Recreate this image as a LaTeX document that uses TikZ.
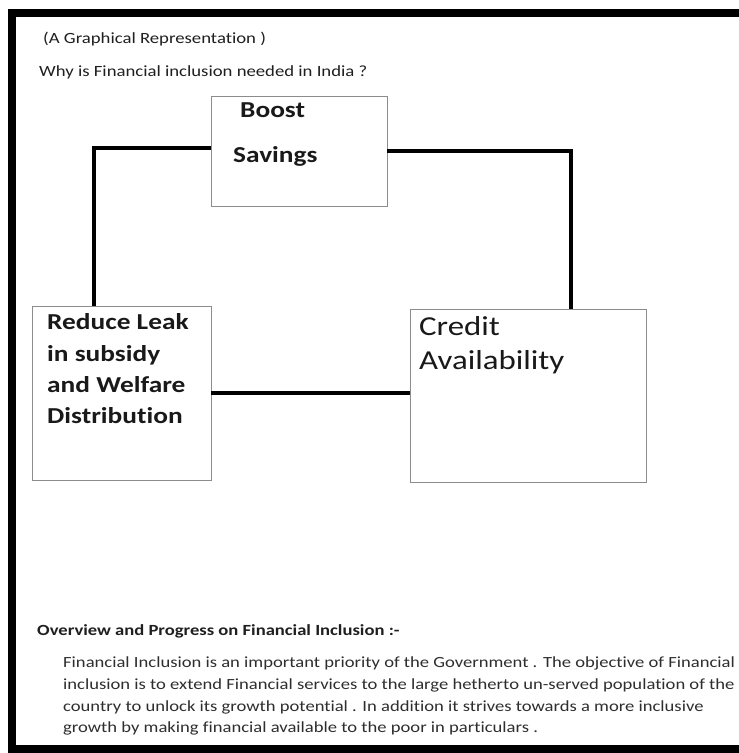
\documentclass[tikz,border=0pt]{standalone}
\usepackage{fontspec}
\setmainfont{Carlito}[FakeStretch=1.2,Ligatures=NoCommon,RawFeature=-liga]
\begin{document}
\begin{tikzpicture}[x=1pt,y=-1pt,
  box/.style={draw=black!45,line width=0.8pt,rectangle,inner sep=0pt},
  link/.style={line width=4.2pt,black},
  small/.style={anchor=base west,inner sep=0pt,text=black!88,font=\fontsize{15.6}{18}\selectfont},
  smallb/.style={small,font=\fontsize{15.5}{18}\selectfont\bfseries},
  para/.style={anchor=base west,inner sep=0pt,text=black!82,font=\fontsize{15.5}{18}\selectfont},
  bigb/.style={anchor=base west,inner sep=0pt,text=black!90,font=\fontsize{22.8}{26}\selectfont\bfseries},
  bigr/.style={anchor=base west,inner sep=0pt,text=black!90,font=\fontsize{27.4}{30}\selectfont}]
\useasboundingbox (0,0) rectangle (739,753);
\fill[white] (0,0) rectangle (739,753);
% frame
\draw[line width=8pt,black] (745,13) -- (12,13) -- (12,749) -- (745,749);
% header texts
\node[small] (t1) at (43,43) {(A Graphical Representation )};
\node[small] (t2) at (39,76) {Why is Financial inclusion needed in India ?};
% boxes
\node[box,minimum width=176pt,minimum height=110pt] (boost) at (299,151) {};
\node[box,minimum width=179pt,minimum height=174pt] (reduce) at (121.5,393) {};
\node[box,minimum width=236pt,minimum height=173pt] (credit) at (528,395.5) {};
% box texts
\node[bigb] (b1) at (240,117) {Boost};
\node[bigb] (b2) at (233,162) {Savings};
\node[bigb] (r1) at (47,329) {Reduce Leak};
\node[bigb] (r2) at (47,361) {in subsidy};
\node[bigb] (r3) at (47,392) {and Welfare};
\node[bigb] (r4) at (47,423) {Distribution};
\node[bigr] (c1) at (419,335) {Credit};
\node[bigr] (c2) at (419,369) {Availability};
% connectors
\draw[link] ([yshift=3pt]boost.west) -| ([xshift=62pt]reduce.north west);
\draw[link] (boost.east) -| ([xshift=161pt]credit.north west);
\draw[link] (reduce.east) -- (reduce.east -| credit.west);
% bottom texts
\node[smallb] (h) at (37,635) {Overview and Progress on Financial Inclusion :-};
\node[para] (p1) at (63,667) {Financial Inclusion is an important priority of the Government . The objective of Financial};
\node[para] (p2) at (63,689) {inclusion is to extend Financial services to the large hetherto un-served population of the};
\node[para] (p3) at (63,711) {country to unlock its growth potential . In addition it strives towards a more inclusive};
\node[para] (p4) at (63,732) {growth by making financial available to the poor in particulars .};
\end{tikzpicture}
\end{document}
